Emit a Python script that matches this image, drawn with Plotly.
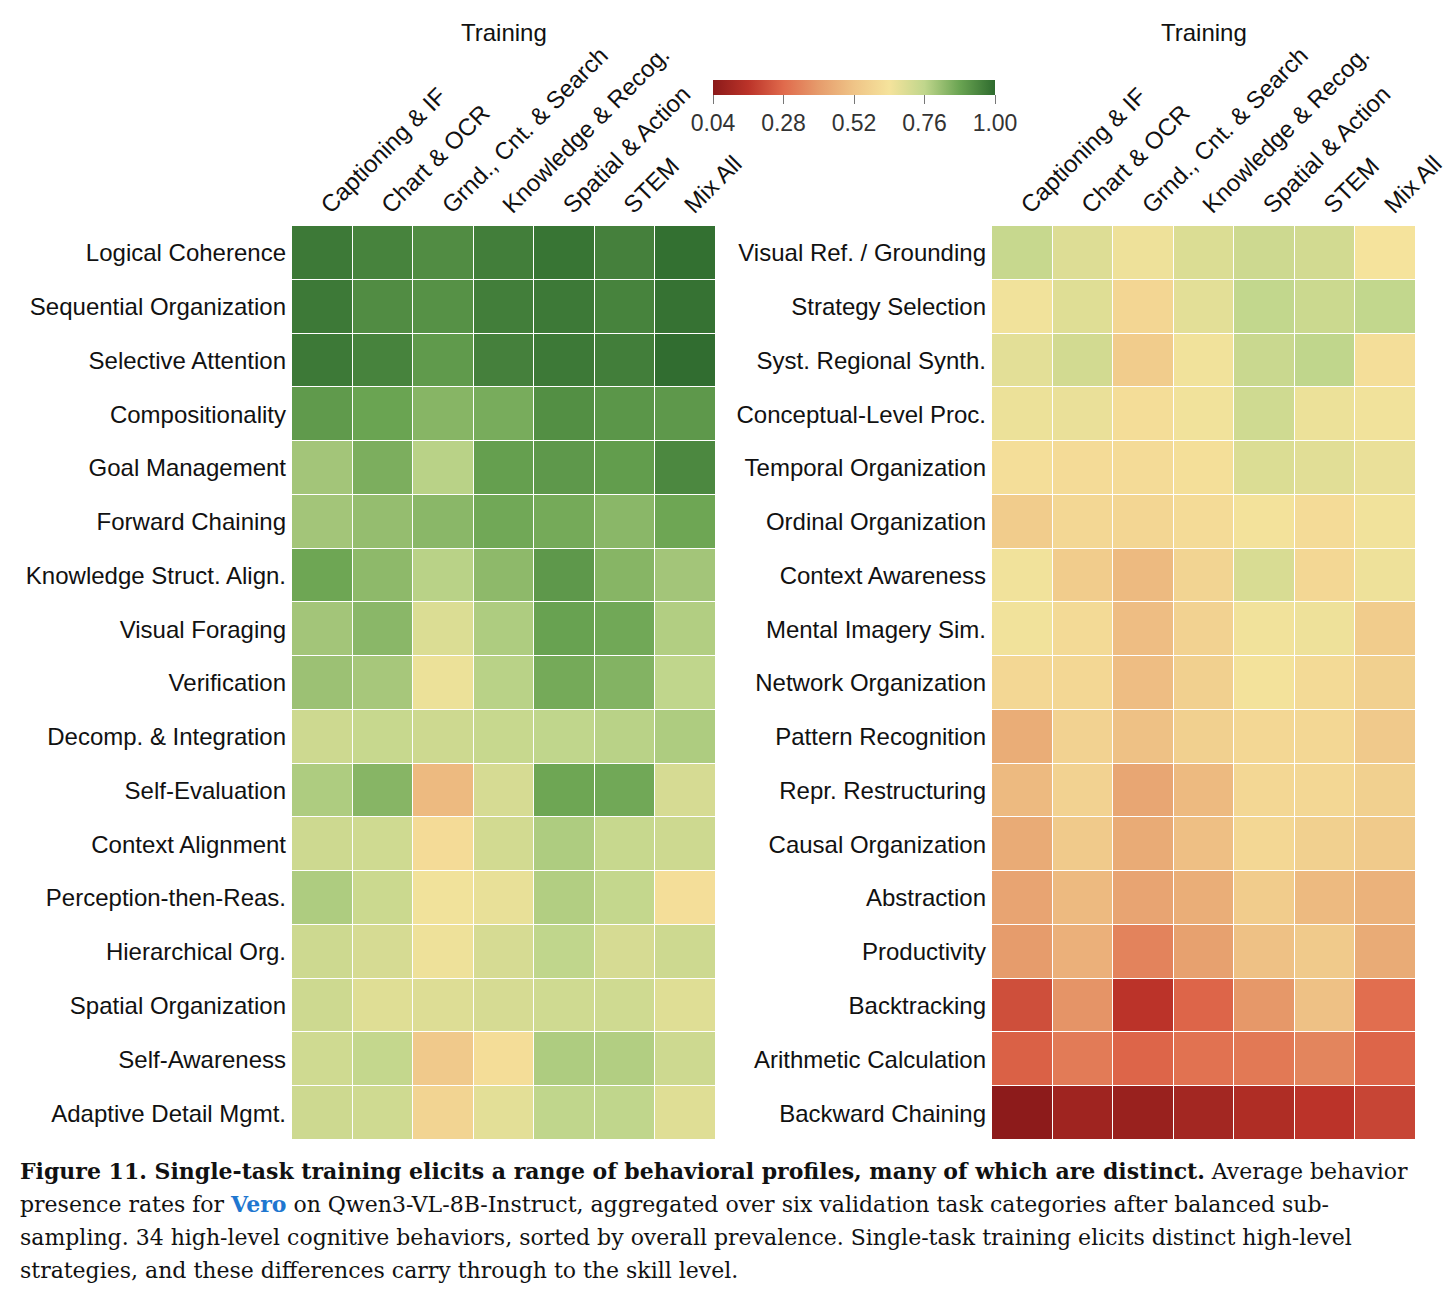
import plotly.graph_objects as go

columns = ["Captioning & IF", "Chart & OCR", "Grnd., Cnt. & Search", "Knowledge & Recog.",
           "Spatial & Action", "STEM", "Mix All"]

left_rows = ["Logical Coherence", "Sequential Organization", "Selective Attention", "Compositionality",
             "Goal Management", "Forward Chaining", "Knowledge Struct. Align.", "Visual Foraging",
             "Verification", "Decomp. & Integration", "Self-Evaluation", "Context Alignment",
             "Perception-then-Reas.", "Hierarchical Org.", "Spatial Organization", "Self-Awareness",
             "Adaptive Detail Mgmt."]

left_values = [
    [0.970, 0.950, 0.930, 0.960, 0.980, 0.955, 0.990],
    [0.970, 0.930, 0.920, 0.960, 0.970, 0.950, 0.985],
    [0.970, 0.950, 0.900, 0.955, 0.970, 0.960, 0.995],
    [0.900, 0.880, 0.840, 0.860, 0.925, 0.910, 0.905],
    [0.800, 0.855, 0.770, 0.890, 0.905, 0.895, 0.940],
    [0.800, 0.820, 0.835, 0.870, 0.865, 0.835, 0.875],
    [0.875, 0.830, 0.770, 0.830, 0.905, 0.840, 0.800],
    [0.800, 0.835, 0.700, 0.785, 0.885, 0.870, 0.780],
    [0.810, 0.795, 0.660, 0.770, 0.865, 0.845, 0.760],
    [0.730, 0.745, 0.730, 0.745, 0.760, 0.770, 0.785],
    [0.785, 0.840, 0.490, 0.710, 0.875, 0.870, 0.710],
    [0.730, 0.725, 0.610, 0.720, 0.785, 0.745, 0.730],
    [0.785, 0.735, 0.650, 0.670, 0.780, 0.750, 0.620],
    [0.730, 0.710, 0.655, 0.710, 0.760, 0.710, 0.730],
    [0.730, 0.690, 0.695, 0.710, 0.725, 0.725, 0.690],
    [0.725, 0.750, 0.540, 0.615, 0.785, 0.780, 0.730],
    [0.730, 0.725, 0.580, 0.680, 0.760, 0.760, 0.690],
]

right_rows = ["Visual Ref. / Grounding", "Strategy Selection", "Syst. Regional Synth.",
              "Conceptual-Level Proc.", "Temporal Organization", "Ordinal Organization",
              "Context Awareness", "Mental Imagery Sim.", "Network Organization",
              "Pattern Recognition", "Repr. Restructuring", "Causal Organization", "Abstraction",
              "Productivity", "Backtracking", "Arithmetic Calculation", "Backward Chaining"]

right_values = [
    [0.745, 0.695, 0.655, 0.700, 0.730, 0.720, 0.640],
    [0.650, 0.690, 0.590, 0.680, 0.755, 0.735, 0.755],
    [0.680, 0.720, 0.550, 0.650, 0.740, 0.760, 0.620],
    [0.660, 0.665, 0.615, 0.650, 0.725, 0.660, 0.650],
    [0.620, 0.610, 0.610, 0.625, 0.700, 0.685, 0.665],
    [0.550, 0.595, 0.590, 0.610, 0.645, 0.610, 0.650],
    [0.650, 0.550, 0.490, 0.580, 0.705, 0.595, 0.655],
    [0.650, 0.605, 0.500, 0.575, 0.650, 0.655, 0.550],
    [0.595, 0.595, 0.500, 0.565, 0.645, 0.605, 0.565],
    [0.450, 0.575, 0.510, 0.565, 0.595, 0.595, 0.540],
    [0.490, 0.575, 0.430, 0.490, 0.595, 0.595, 0.565],
    [0.445, 0.545, 0.445, 0.505, 0.595, 0.565, 0.545],
    [0.425, 0.490, 0.425, 0.455, 0.550, 0.490, 0.465],
    [0.400, 0.460, 0.340, 0.415, 0.510, 0.545, 0.445],
    [0.220, 0.380, 0.160, 0.270, 0.390, 0.510, 0.290],
    [0.260, 0.320, 0.270, 0.300, 0.315, 0.345, 0.270],
    [0.045, 0.090, 0.075, 0.100, 0.130, 0.160, 0.200],
]

cbar_ticks = [0.04, 0.28, 0.52, 0.76, 1.00]
zmin, zmax = 0.04, 1.00

colorscale = [
    [0.000, "#8b1a1a"],
    [0.125, "#bb3329"],
    [0.250, "#e06a4c"],
    [0.375, "#e69c6c"],
    [0.500, "#efc487"],
    [0.625, "#f5e39c"],
    [0.750, "#c0d68c"],
    [0.875, "#6aa452"],
    [1.000, "#2e6b2e"],
]

W, H = 1455, 1302
def px_x(p): return p / W
def px_y(p): return 1 - p / H

FS = 24
fig = go.Figure()
fig.add_trace(go.Heatmap(
    z=left_values, x=columns, y=left_rows, colorscale=colorscale, zmin=zmin, zmax=zmax,
    xgap=1, ygap=1, xaxis="x", yaxis="y",
    colorbar=dict(orientation="h", x=px_x(854), xanchor="center", y=px_y(80), yanchor="top",
                  len=282, lenmode="pixels", thickness=15, outlinewidth=0, xpad=0, ypad=0,
                  tickvals=cbar_ticks, ticktext=[f"{t:.2f}" for t in cbar_ticks],
                  ticks="outside", ticklen=9, tickcolor="#777", tickwidth=1,
                  tickfont=dict(family="Liberation Sans, Arial", size=FS - 1, color="#333")),
))
fig.add_trace(go.Heatmap(
    z=right_values, x=columns, y=right_rows, colorscale=colorscale, zmin=zmin, zmax=zmax,
    xgap=1, ygap=1, xaxis="x2", yaxis="y2", showscale=False,
))

tickfont = dict(family="Liberation Sans, Arial", size=FS, color="#111")
yd = [px_y(1140), px_y(226)]
fig.update_layout(
    width=W, height=H, margin=dict(l=0, r=0, t=0, b=0, autoexpand=False),
    paper_bgcolor="white", plot_bgcolor="white",
    xaxis=dict(domain=[px_x(292), px_x(716)], side="top", tickangle=-45, tickfont=tickfont,
               showgrid=False, zeroline=False, ticks="", anchor="y", automargin=False,
               ticklabelstandoff=2),
    yaxis=dict(domain=yd, autorange="reversed", tickfont=tickfont, showgrid=False,
               zeroline=False, ticks="", anchor="x", automargin=False, ticklabelstandoff=5),
    xaxis2=dict(domain=[px_x(992), px_x(1416)], side="top", tickangle=-45, tickfont=tickfont,
                showgrid=False, zeroline=False, ticks="", anchor="y2", automargin=False,
                ticklabelstandoff=2),
    yaxis2=dict(domain=yd, autorange="reversed", tickfont=tickfont, showgrid=False,
                zeroline=False, ticks="", anchor="x2", automargin=False, ticklabelstandoff=5),
)

ann = []
for cx in (504, 1204):
    ann.append(dict(text="Training", x=px_x(cx), y=px_y(33), xref="paper", yref="paper",
                    showarrow=False, xanchor="center", yanchor="middle",
                    font=dict(family="Liberation Sans, Arial", size=FS, color="#111")))

caption_lines = [
    "<b>Figure 11. Single-task training elicits a range of behavioral profiles, many of which are distinct.</b> Average behavior",
    "presence rates for <b><span style='color:#1f77d0'>Vero</span></b> on Qwen3-VL-8B-Instruct, aggregated over six validation task categories after balanced sub-",
    "sampling. 34 high-level cognitive behaviors, sorted by overall prevalence. Single-task training elicits distinct high-level",
    "strategies, and these differences carry through to the skill level.",
]
caption_y = [1171, 1204, 1237, 1270]
for line, yy in zip(caption_lines, caption_y):
    ann.append(dict(text=line, x=px_x(18), y=px_y(yy), xref="paper", yref="paper",
                    showarrow=False, xanchor="left", yanchor="middle", align="left",
                    font=dict(family="DejaVu Serif, serif", size=22, color="#111")))
fig.update_layout(annotations=ann)

fig.write_html("out.html")
